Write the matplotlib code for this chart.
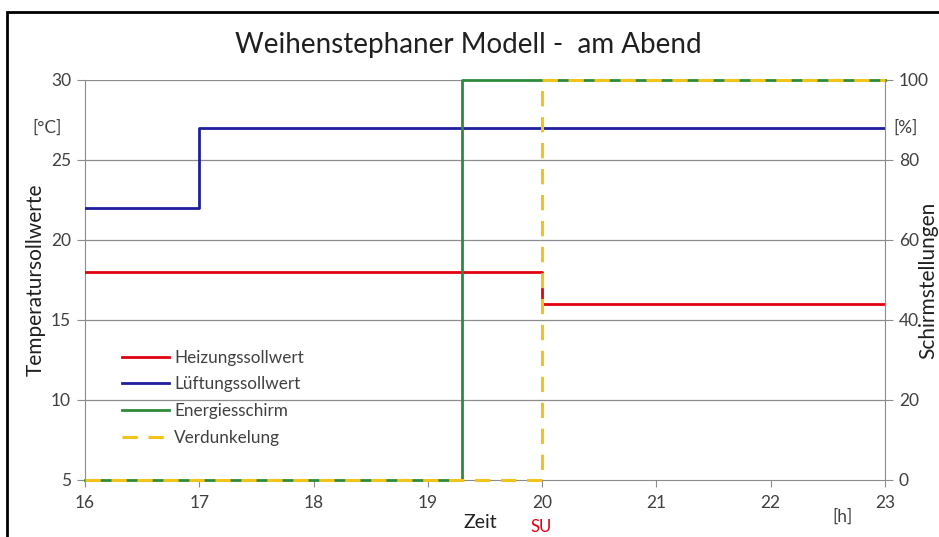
import matplotlib
matplotlib.use("Agg")
import matplotlib.pyplot as plt
from matplotlib.patches import Rectangle

plt.rcParams['font.family'] = ['Lato', 'DejaVu Sans']

# Data
heiz_x = [16, 20, 20, 23]
heiz_y = [18, 18, 16, 16]
lueft_x = [16, 17, 17, 23]
lueft_y = [22, 22, 27, 27]
schirm_x = [16, 19.3, 19.3, 23]
schirm_y = [0, 0, 100, 100]
verd_x = [16, 20, 20, 23]
verd_y = [0, 0, 100, 100]
x_ticks = [16, 17, 18, 19, 20, 21, 22, 23]
y_left_ticks = [5, 10, 15, 20, 25, 30]
y_right_ticks = [0, 20, 40, 60, 80, 100]

W, H = 939, 537
fig = plt.figure(figsize=(W/100, H/100), dpi=100)
ax = fig.add_axes([85/W, 1-480/H, 800/W, 400/H])
ax2 = ax.twinx()

grid_c = '#8c8c8c'
for y in y_left_ticks[1:]:
    ax.axhline(y, color=grid_c, lw=0.9, zorder=0)

l1, = ax.plot(heiz_x, heiz_y, color='#e3000f', lw=2, label='Heizungssollwert', zorder=3)
l2, = ax.plot(lueft_x, lueft_y, color='#1f1f9e', lw=2, label='Lüftungssollwert', zorder=3)
l3, = ax2.plot(schirm_x, schirm_y, color='#2e8b3c', lw=2, label='Energiesschirm', zorder=3, clip_on=False)
l4, = ax2.plot(verd_x, verd_y, color='#f2c318', lw=2.2, ls=(0, (5, 3.5)), label='Verdunkelung', zorder=4, clip_on=False)

ax.set_xlim(16, 23)
ax.set_ylim(5, 30)
ax2.set_ylim(0, 100)
ax.set_xticks(x_ticks)
ax.set_yticks(y_left_ticks)
ax2.set_yticks(y_right_ticks)

for a in (ax, ax2):
    for s in a.spines.values():
        s.set_visible(False)
ax.spines['left'].set_visible(True)
ax.spines['left'].set_color(grid_c)
ax2.spines['right'].set_visible(True)
ax2.spines['right'].set_color(grid_c)
ax.spines['bottom'].set_visible(True)
ax.spines['bottom'].set_color(grid_c)
ax.spines['bottom'].set_zorder(1)

tc = '#404040'
ax.tick_params(axis='y', length=6, color=grid_c, labelsize=12.5, labelcolor=tc, pad=4)
ax2.tick_params(axis='y', length=6, color=grid_c, labelsize=12.5, labelcolor=tc, pad=4)
ax.tick_params(axis='x', length=5, color=grid_c, labelsize=12.5, labelcolor=tc, pad=6)

ax.set_ylabel('Temperatursollwerte', fontsize=15, color='#202020', labelpad=4)
fig.text(928/W, 1-280/H, 'Schirmstellungen', ha='center', va='center', rotation=90,
         fontsize=15, color='#202020')

fig.text(468/W, 1-45/H, 'Weihenstephaner Modell -  am Abend', ha='center', va='center', fontsize=20, color='#202020')
fig.text(480/W, 1-523/H, 'Zeit', ha='center', va='center', fontsize=14, color='#202020')
fig.text(541/W, 1-527/H, 'SU', ha='center', va='center', fontsize=12, color='#e3000f')
fig.text(842/W, 1-517/H, '[h]', ha='center', va='center', fontsize=12.5, color=tc)
fig.text(47/W, 1-128/H, '[°C]', ha='center', va='center', fontsize=12.5, color=tc)
fig.text(906/W, 1-128/H, '[%]', ha='center', va='center', fontsize=12.5, color=tc)

leg = ax.legend(handles=[l1, l2, l3, l4], loc='upper left', bbox_to_anchor=(30/800, 1-263/400),
                frameon=False, fontsize=12.3, handlelength=2.75, handletextpad=0.3,
                labelspacing=0.62, borderaxespad=0)
for t in leg.get_texts():
    t.set_color(tc)

fig.patches.append(Rectangle((7/W, -0.05), 1.0, 1-12/H+0.05, transform=fig.transFigure,
                             fill=False, edgecolor='black', lw=2))

fig.savefig('out.png', dpi=100)
